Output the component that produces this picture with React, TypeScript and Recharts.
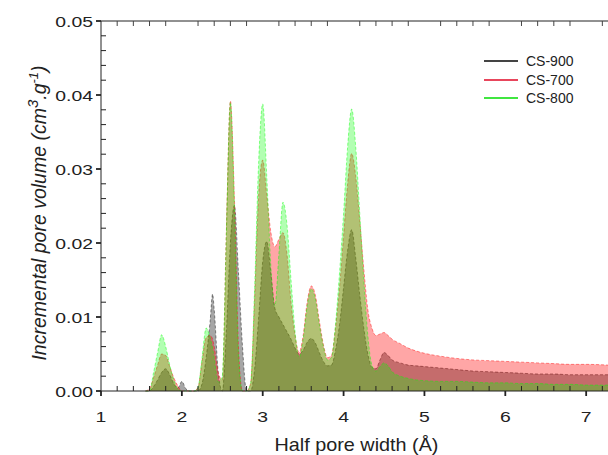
import { ComposedChart, Area, XAxis, YAxis, Legend } from 'recharts';

// half pore width (Å)
const poreWidth = [
  1.55, 1.6, 1.65, 1.7, 1.75, 1.8, 1.85, 1.9, 1.95, 2.0,
  2.05, 2.1, 2.15, 2.2, 2.25, 2.3, 2.35, 2.38, 2.4, 2.45,
  2.5, 2.55, 2.6, 2.65, 2.7, 2.75, 2.8, 2.85, 2.9, 2.95,
  3.0, 3.05, 3.1, 3.15, 3.2, 3.25, 3.3, 3.35, 3.4, 3.45,
  3.5, 3.55, 3.6, 3.65, 3.7, 3.75, 3.8, 3.85, 3.9, 3.95,
  4.0, 4.05, 4.1, 4.15, 4.2, 4.25, 4.3, 4.35, 4.4, 4.45,
  4.5, 4.55, 4.6, 4.7, 4.8, 4.9, 5.0, 5.2, 5.4, 5.6,
  5.8, 6.0, 6.2, 6.4, 6.6, 6.8, 7.0, 7.27,
];

const cs900 = [
  0, 0, 0.0006, 0.0015, 0.0025, 0.0030, 0.0022, 0.0010, 0.0004, 0.0013,
  0.0003, 0, 0, 0, 0.0010, 0.0045, 0.0095, 0.0131, 0.0110, 0.0025,
  0, 0.0080, 0.0200, 0.0251, 0.0160, 0.0060, 0, 0, 0.0030, 0.0100,
  0.0175, 0.0202, 0.0160, 0.0112, 0.0100, 0.0090, 0.0080, 0.0070, 0.0058, 0.0050,
  0.0055, 0.0066, 0.0071, 0.0065, 0.0052, 0.0040, 0.0034, 0.0035, 0.0055, 0.0090,
  0.0140, 0.0190, 0.0218, 0.0180, 0.0130, 0.0085, 0.0050, 0.0032, 0.0030, 0.0042,
  0.0052, 0.0048, 0.0042, 0.0038, 0.0035, 0.0034, 0.0033, 0.0031, 0.0029, 0.0027,
  0.0026, 0.0025, 0.0024, 0.0023, 0.0023, 0.0022, 0.0022, 0.0022,
];

const cs700 = [
  0, 0.0003, 0.0018, 0.0035, 0.0050, 0.0048, 0.0033, 0.0018, 0.0007, 0,
  0, 0, 0, 0.0005, 0.0040, 0.0072, 0.0075, 0.0070, 0.0060, 0.0025,
  0.0015, 0.0215, 0.0392, 0.0260, 0.0060, 0, 0, 0.0010, 0.0125, 0.0265,
  0.0312, 0.0265, 0.0215, 0.0195, 0.0205, 0.0214, 0.0185, 0.0120, 0.0075, 0.0052,
  0.0075, 0.0120, 0.0142, 0.0130, 0.0095, 0.0063, 0.0045, 0.0048, 0.0085, 0.0140,
  0.0210, 0.0280, 0.0321, 0.0290, 0.0230, 0.0165, 0.0110, 0.0085, 0.0075, 0.0077,
  0.0079, 0.0075, 0.0070, 0.0064, 0.0058, 0.0054, 0.0051, 0.0047, 0.0044, 0.0042,
  0.0041, 0.0040, 0.0039, 0.0038, 0.0037, 0.0036, 0.0036, 0.0035,
];

const cs800 = [
  0, 0, 0.0025, 0.0052, 0.0076, 0.0060, 0.0035, 0.0015, 0.0003, 0,
  0, 0, 0, 0.0005, 0.0045, 0.0085, 0.0072, 0.0058, 0.0045, 0.0012,
  0.0020, 0.0210, 0.0390, 0.0250, 0.0050, 0, 0, 0.0010, 0.0140, 0.0310,
  0.0388, 0.0290, 0.0170, 0.0115, 0.0185, 0.0255, 0.0225, 0.0150, 0.0080, 0.0045,
  0.0070, 0.0115, 0.0138, 0.0125, 0.0090, 0.0060, 0.0042, 0.0045, 0.0090, 0.0160,
  0.0240, 0.0330, 0.0381, 0.0330, 0.0240, 0.0150, 0.0075, 0.0035, 0.0027, 0.0033,
  0.0038, 0.0034, 0.0026, 0.0020, 0.0017, 0.0015, 0.0014, 0.0013, 0.0013, 0.0012,
  0.0011, 0.0011, 0.0010, 0.0010, 0.0009, 0.0009, 0.0008, 0.0008,
];

const xMajor = [1, 2, 3, 4, 5, 6, 7];
const yMajor = [0, 0.01, 0.02, 0.03, 0.04, 0.05];

// minor ticks every 0.2 Å and every 0.002
const xTicks = Array.from({ length: 32 }, (_, i) => +(1 + i * 0.2).toFixed(1));
const yTicks = Array.from({ length: 26 }, (_, i) => +(i * 0.002).toFixed(3));

const series = [
  { key: 'cs900', name: 'CS-900', color: '#000000', alpha: 0.35, legend: '#444444' },
  { key: 'cs700', name: 'CS-700', color: '#ff0000', alpha: 0.35, legend: '#e8465c' },
  { key: 'cs800', name: 'CS-800', color: '#00ff00', alpha: 0.3, legend: '#40e640' },
];

const data = poreWidth.map((x, i) => ({ x, cs900: cs900[i], cs700: cs700[i], cs800: cs800[i] }));

const FONT = '"Liberation Sans", Arial, sans-serif';
const isMajor = (v: number, majors: number[]) => majors.some((m) => Math.abs(m - v) < 1e-6);

// the original's lettering is a bit wider than Arial
function WideText({ x, y, anchor, size, children }: any) {
  return (
    <text
      transform={`translate(${x}, ${y}) scale(1.25, 1)`}
      textAnchor={anchor}
      fontSize={size}
      fontFamily={FONT}
      fill="#222"
    >
      {children}
    </text>
  );
}

function BottomTick({ x, y, payload }: any) {
  const major = isMajor(payload.value, xMajor);
  return (
    <g>
      <line x1={x} x2={x} y1={y} y2={major ? y + 5 : y - 5} stroke="#222" strokeWidth={major ? 1.8 : 1} />
      {major && (
        <WideText x={x} y={y + 31} anchor="middle" size={15.5}>
          {payload.value}
        </WideText>
      )}
    </g>
  );
}

function TopTick({ x, y, payload }: any) {
  if (isMajor(payload.value, xMajor)) return <g />;
  return <line x1={x} x2={x} y1={y} y2={y + 5} stroke="#444" strokeWidth={1} />;
}

function LeftTick({ x, y, payload }: any) {
  const major = isMajor(payload.value, yMajor);
  return (
    <g>
      <line x1={major ? x - 5 : x} x2={major ? x : x + 5} y1={y} y2={y} stroke="#222" strokeWidth={major ? 1.8 : 1} />
      {major && (
        <WideText x={x - 8} y={y + 6} anchor="end" size={15.5}>
          {payload.value.toFixed(2)}
        </WideText>
      )}
    </g>
  );
}

function XTitle({ viewBox }: any) {
  const cx = viewBox.x + viewBox.width / 2 + 2;
  return (
    <text
      transform={`translate(${cx}, ${viewBox.y + 60}) scale(1.1, 1)`}
      textAnchor="middle"
      fontSize={18}
      fontFamily={FONT}
      fill="#222"
    >
      Half pore width (Å)
    </text>
  );
}

function YTitle({ viewBox }: any) {
  const cx = viewBox.x + 5;
  const cy = viewBox.y + viewBox.height / 2 + 7;
  return (
    <text
      x={cx}
      y={cy}
      transform={`rotate(-90, ${cx}, ${cy})`}
      textAnchor="middle"
      fontSize={19.5}
      fontStyle="italic"
      fontFamily={FONT}
      fill="#222"
    >
      Incremental pore volume (cm
      <tspan dy={-8} fontSize={15}>3</tspan>
      <tspan dy={8}>.g</tspan>
      <tspan dy={-8} fontSize={13}>-1</tspan>
      <tspan dy={8}>)</tspan>
    </text>
  );
}

function LegendBox() {
  return (
    <div style={{ fontFamily: FONT, fontSize: 14, color: '#222' }}>
      {series.map((s) => (
        <div key={s.key} style={{ display: 'flex', alignItems: 'center', height: 18.5 }}>
          <svg width={34} height={4} style={{ display: 'block' }}>
            <line x1={0} x2={34} y1={2} y2={2} stroke={s.legend} strokeWidth={2.2} />
          </svg>
          <span style={{ marginLeft: 8, lineHeight: '18px' }}>{s.name}</span>
        </div>
      ))}
    </div>
  );
}

export default function App() {
  return (
    <div style={{ position: 'absolute', left: 0, top: 0, width: 608, height: 455, overflow: 'hidden', background: '#fff' }}>
      <ComposedChart width={608} height={455} data={data} margin={{ top: 11, right: 0, bottom: 34, left: 41 }}>
        <XAxis
          dataKey="x"
          type="number"
          domain={[1, 7.27]}
          allowDataOverflow
          ticks={xTicks}
          interval={0}
          tickSize={0}
          tickMargin={0}
          tickLine={false}
          axisLine={{ stroke: '#222', strokeWidth: 1 }}
          tick={(p: any) => <BottomTick {...p} />}
          height={30}
          label={<XTitle />}
        />
        <XAxis
          xAxisId="top"
          dataKey="x"
          type="number"
          orientation="top"
          domain={[1, 7.27]}
          allowDataOverflow
          ticks={xTicks}
          interval={0}
          tickSize={0}
          tickMargin={0}
          tickLine={false}
          axisLine={{ stroke: '#222', strokeWidth: 1 }}
          tick={(p: any) => <TopTick {...p} />}
          height={10}
        />
        <YAxis
          type="number"
          domain={[0, 0.05]}
          ticks={yTicks}
          interval={0}
          tickSize={0}
          tickMargin={0}
          tickLine={false}
          axisLine={{ stroke: '#222', strokeWidth: 1 }}
          tick={(p: any) => <LeftTick {...p} />}
          width={60}
          label={<YTitle />}
        />
        <Legend
          layout="vertical"
          align="center"
          verticalAlign="middle"
          content={<LegendBox />}
          wrapperStyle={{ position: 'absolute', left: 484, top: 52, width: 110 }}
        />
        {series.map((s) => (
          <Area
            key={s.key}
            type="monotone"
            dataKey={s.key}
            name={s.name}
            stroke={s.color}
            strokeOpacity={0.55}
            strokeWidth={0.8}
            strokeDasharray="3 2"
            fill={s.color}
            fillOpacity={s.alpha}
            isAnimationActive={false}
            legendType="line"
          />
        ))}
      </ComposedChart>
    </div>
  );
}
